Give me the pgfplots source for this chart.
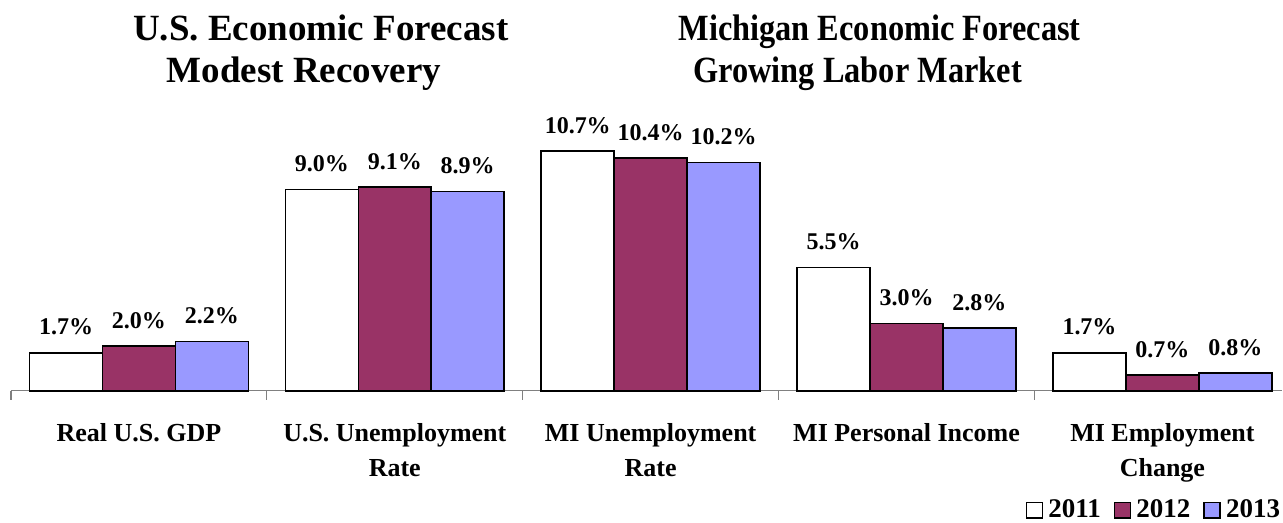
\documentclass[border=0pt]{standalone}
\usepackage{graphicx}
\usepackage{pgfplots}
\pgfplotsset{compat=1.18}
\usepackage{fontspec}
\setmainfont{Liberation Serif}

\definecolor{plum}{HTML}{993366}
\definecolor{periwinkle}{HTML}{9999FF}

\begin{document}
\begin{tikzpicture}
% full canvas, everything is drawn inside it
\path (0,0) rectangle (641.5pt,261.5pt);

\begin{axis}[
    at={(5.5pt,66pt)}, anchor=south west,
    scale only axis, width=636pt, height=134.4pt,
    xmin=-0.5, xmax=4.469,
    ymin=0, ymax=12,
    axis x line*=bottom, axis y line=none,
    axis line style={draw=gray, line width=0.6pt},
    ybar, bar width=0.285,
    xtick={0,1,2,3,4},
    xticklabels={Real U.S. GDP, {U.S. Unemployment\\Rate}, {MI Unemployment\\Rate},
                 MI Personal Income, {MI Employment\\Change}},
    major tick length=0pt,
    minor xtick={-0.5,0.5,1.5,2.5,3.5},
    minor tick length=4.5pt,
    tick align=outside,
    minor tick style={draw=gray, line width=0.6pt},
    xticklabel style={font=\bfseries\fontsize{13}{17.5}\selectfont, align=center, yshift=-12.8pt},
    every axis plot/.append style={draw=black, line width=0.8pt},
    point meta=explicit symbolic,
    nodes near coords={\pgfplotspointmeta\%},
    every node near coord/.append style={font=\bfseries\fontsize{12}{14}\selectfont, text=black, yshift=5pt},
    clip=false,
    legend columns=3,
    legend image code/.code={\draw[#1, line width=0.8pt] (0pt,-4pt) rectangle (8pt,3.75pt);},
    legend style={at={(axis description cs:1,0)}, anchor=south east, yshift=-66pt,
        draw=none, fill=none, inner sep=0pt,
        font=\bfseries\fontsize{13.5}{15}\selectfont,
        nodes={inner sep=1pt},
        /tikz/every odd column/.append style={column sep=1.5pt},
        /tikz/every even column/.append style={column sep=5.5pt}},
]
\addplot[fill=white, bar shift=-0.285] coordinates {
    (0,1.7) [1.7] (1,9.0) [9.0] (2,10.7) [10.7] (3,5.5) [5.5] (4,1.7) [1.7]};
\addplot[fill=plum, bar shift=0] coordinates {
    (0,2.0) [2.0] (1,9.1) [9.1] (2,10.4) [10.4] (3,3.0) [3.0] (4,0.7) [0.7]};
\addplot[fill=periwinkle, bar shift=0.285] coordinates {
    (0,2.2) [2.2] (1,8.9) [8.9] (2,10.2) [10.2] (3,2.8) [2.8] (4,0.8) [0.8]};
\legend{2011,2012,2013}
\end{axis}

\begin{scope}[every node/.style={anchor=base, font=\bfseries\fontsize{18.5}{22}\selectfont}]
\node at (160.5pt,241pt) {U.S. Economic Forecast};
\node at (152pt,220pt) {Modest Recovery};
\node at (440pt,241pt) {\scalebox{0.875}[1]{Michigan Economic Forecast}};
\node at (429pt,220pt) {\scalebox{0.875}[1]{Growing Labor Market}};
\end{scope}
\end{tikzpicture}
\end{document}
